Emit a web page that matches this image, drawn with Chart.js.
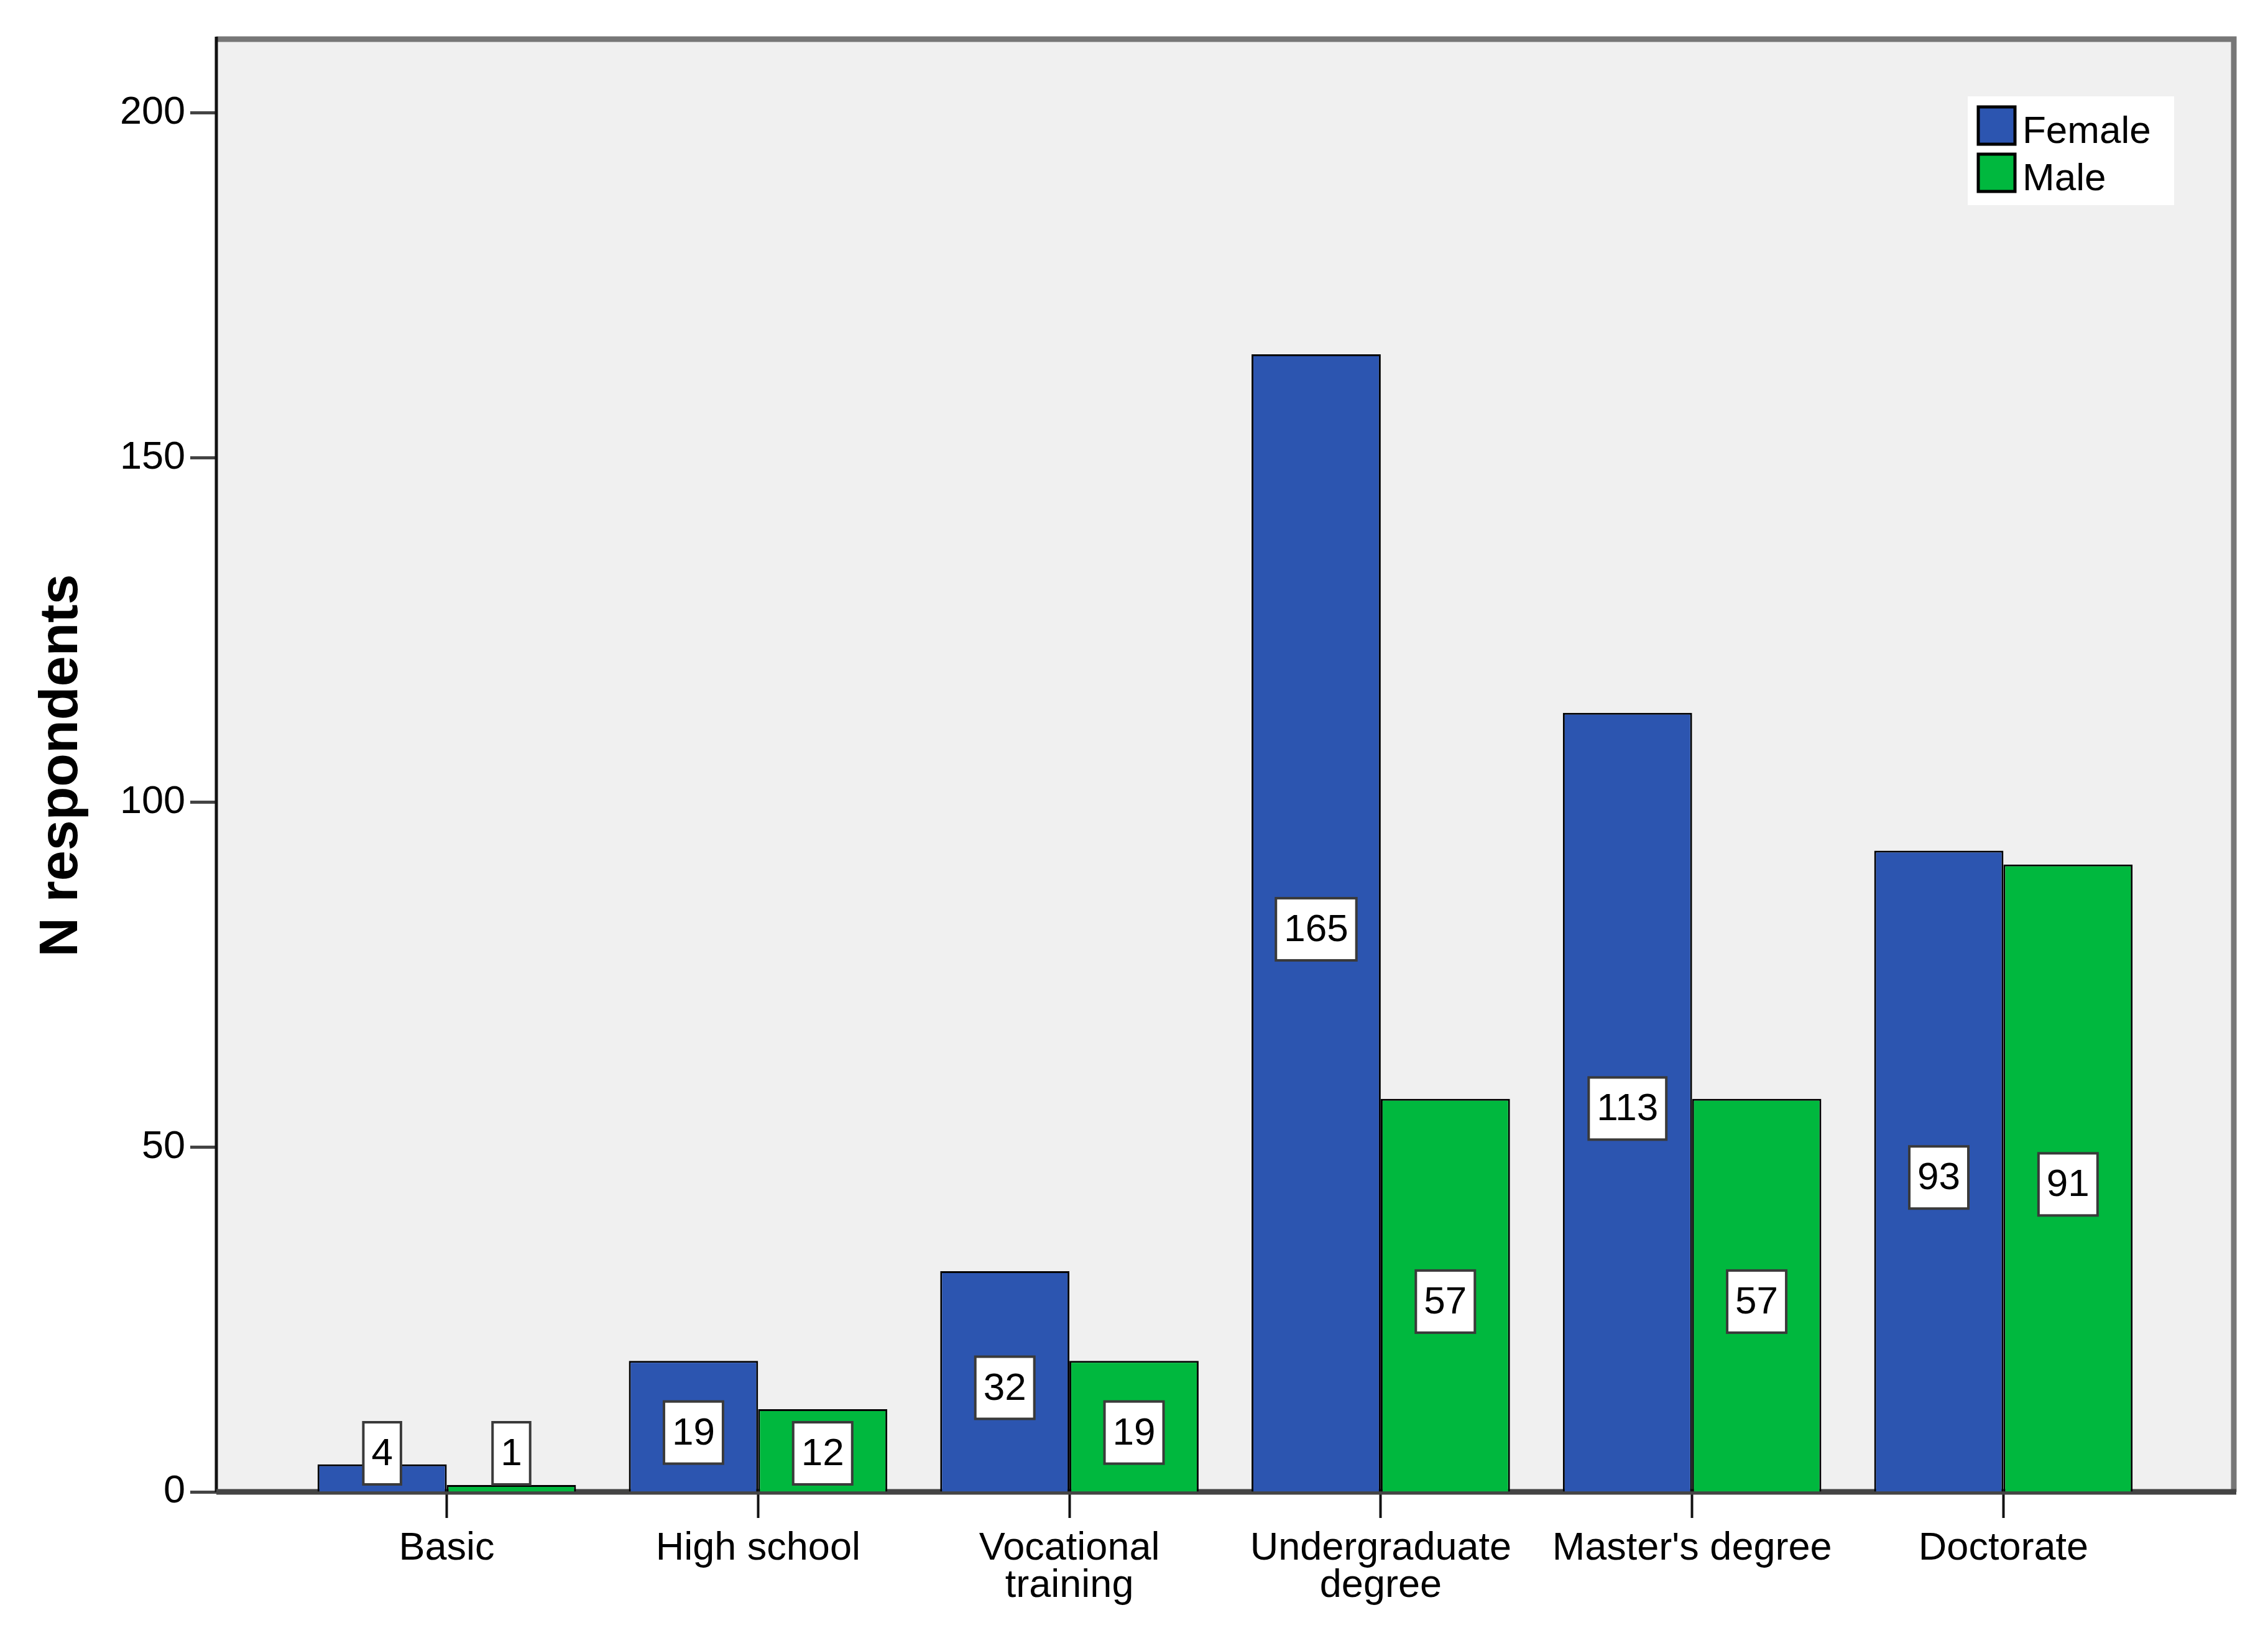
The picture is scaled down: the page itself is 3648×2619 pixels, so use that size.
<!DOCTYPE html>
<html lang="en">
<head>
    <meta charset="UTF-8">
    <title>N respondents by education and gender</title>
    <script src="https://cdn.jsdelivr.net/npm/chart.js@4"></script>
    <style>
        body { margin: 0; background: #ffffff; }
        canvas { display: block; }
    </style>
</head>
<body>
    <canvas id="chart" width="3648" height="2619"></canvas>
    <script>
        // data
        var categories = ['Basic', 'High school', ['Vocational', 'training'], ['Undergraduate', 'degree'], "Master's degree", 'Doctorate'];
        var female = [4, 19, 32, 165, 113, 93];
        var male = [1, 12, 19, 57, 57, 91];
        var seriesNames = ['Female', 'Male'];
        var yTicks = [0, 50, 100, 150, 200];

        var FONT = '"Liberation Sans", Arial, sans-serif';
        var colors = ['#2c55b0', '#00b83e'];

        function points(values) {
            return values.map(function (v, i) { return { x: i, y: v }; });
        }

        // grey plot background and frame
        var framePlugin = {
            id: 'frame',
            beforeDraw: function (chart) {
                var a = chart.chartArea, c = chart.ctx;
                c.save();
                c.fillStyle = '#ffffff';
                c.fillRect(0, 0, chart.width, chart.height);
                c.fillStyle = '#f0f0f0';
                c.fillRect(a.left, a.top, a.right - a.left, a.bottom - a.top);
                c.restore();
            },
            beforeDatasetsDraw: function (chart) {
                var a = chart.chartArea, c = chart.ctx;
                c.save();
                c.strokeStyle = '#777777';
                c.lineWidth = 9;
                c.beginPath();
                c.moveTo(a.left, a.top);
                c.lineTo(a.right, a.top);
                c.lineTo(a.right, a.bottom);
                c.stroke();
                c.strokeStyle = '#111111';
                c.lineWidth = 5;
                c.beginPath();
                c.moveTo(a.left, a.top - 4);
                c.lineTo(a.left, a.bottom);
                c.stroke();
                c.strokeStyle = '#444444';
                c.lineWidth = 9;
                c.beginPath();
                c.moveTo(a.left, a.bottom);
                c.lineTo(a.right + 4, a.bottom);
                c.stroke();
                c.restore();
            }
        };

        // white boxed value labels in the middle of each bar
        var labelPlugin = {
            id: 'barLabels',
            afterDatasetsDraw: function (chart) {
                var c = chart.ctx, y = chart.scales.y;
                var base = y.getPixelForValue(0);
                c.save();
                c.font = '62px ' + FONT;
                c.textAlign = 'center';
                c.textBaseline = 'middle';
                chart.data.datasets.forEach(function (ds, di) {
                    chart.getDatasetMeta(di).data.forEach(function (el, i) {
                        var v = ds.data[i].y;
                        var txt = String(v);
                        var w = c.measureText(txt).width + 26;
                        var h = 100;
                        var cy = Math.min(y.getPixelForValue(v / 2) + 10, base - h / 2 - 12);
                        c.fillStyle = '#ffffff';
                        c.fillRect(el.x - w / 2, cy - h / 2, w, h);
                        c.strokeStyle = '#3a3a3a';
                        c.lineWidth = 4;
                        c.strokeRect(el.x - w / 2, cy - h / 2, w, h);
                        c.fillStyle = '#000000';
                        c.fillText(txt, el.x, cy + 2);
                    });
                });
                c.restore();
            }
        };

        // legend box in the upper right of the plot
        var legendPlugin = {
            id: 'boxLegend',
            afterDraw: function (chart) {
                var a = chart.chartArea, c = chart.ctx;
                var right = a.right - 96, top = a.top + 92;
                var left = right - 332;
                c.save();
                c.fillStyle = '#ffffff';
                c.fillRect(left, top, 332, 175);
                c.font = '62px ' + FONT;
                c.textBaseline = 'alphabetic';
                chart.data.datasets.forEach(function (ds, i) {
                    var sy = top + 17 + i * 76;
                    c.fillStyle = ds.backgroundColor;
                    c.fillRect(left + 17, sy, 59, 60);
                    c.strokeStyle = '#000000';
                    c.lineWidth = 5;
                    c.strokeRect(left + 17, sy, 59, 60);
                    c.fillStyle = '#000000';
                    c.fillText(ds.label, left + 88, sy + 58);
                });
                c.restore();
            }
        };

        new Chart(document.getElementById('chart'), {
            type: 'bar',
            data: {
                datasets: [{
                    label: seriesNames[0],
                    data: points(female),
                    backgroundColor: colors[0],
                    borderColor: '#000000',
                    borderWidth: 3
                }, {
                    label: seriesNames[1],
                    data: points(male),
                    backgroundColor: colors[1],
                    borderColor: '#000000',
                    borderWidth: 3
                }]
            },
            plugins: [framePlugin, labelPlugin, legendPlugin],
            options: {
                responsive: false,
                animation: false,
                devicePixelRatio: 1,
                categoryPercentage: 0.83,
                barPercentage: 1.0,
                layout: { padding: { left: 0, top: 63, right: 55, bottom: 0 } },
                plugins: {
                    legend: { display: false },
                    tooltip: { enabled: false }
                },
                scales: {
                    x: {
                        type: 'linear',
                        offset: false,
                        min: -0.74,
                        max: 5.74,
                        afterFit: function (s) { s.height = 219; },
                        border: { display: false },
                        grid: {
                            offset: false,
                            drawOnChartArea: false,
                            drawTicks: true,
                            tickLength: 42,
                            tickWidth: 4,
                            tickColor: '#111111'
                        },
                        ticks: {
                            stepSize: 1,
                            includeBounds: false,
                            autoSkip: false,
                            maxRotation: 0,
                            padding: 20,
                            color: '#000000',
                            font: { family: FONT, size: 63, lineHeight: 0.95 },
                            callback: function (v) { return categories[v]; }
                        }
                    },
                    y: {
                        min: 0,
                        max: 210.7,
                        afterFit: function (s) { s.width = 348; },
                        afterBuildTicks: function (s) {
                            s.ticks = yTicks.map(function (v) { return { value: v }; });
                        },
                        border: { display: false },
                        grid: {
                            drawOnChartArea: false,
                            drawTicks: true,
                            tickLength: 42,
                            tickWidth: 5,
                            tickColor: '#444444'
                        },
                        ticks: {
                            padding: 8,
                            color: '#000000',
                            font: { family: FONT, size: 63 }
                        },
                        title: {
                            display: true,
                            text: 'N respondents',
                            color: '#000000',
                            padding: { top: 47, bottom: 0 },
                            font: { family: FONT, size: 88, weight: 'bold' }
                        }
                    }
                }
            }
        });
    </script>
</body>
</html>
